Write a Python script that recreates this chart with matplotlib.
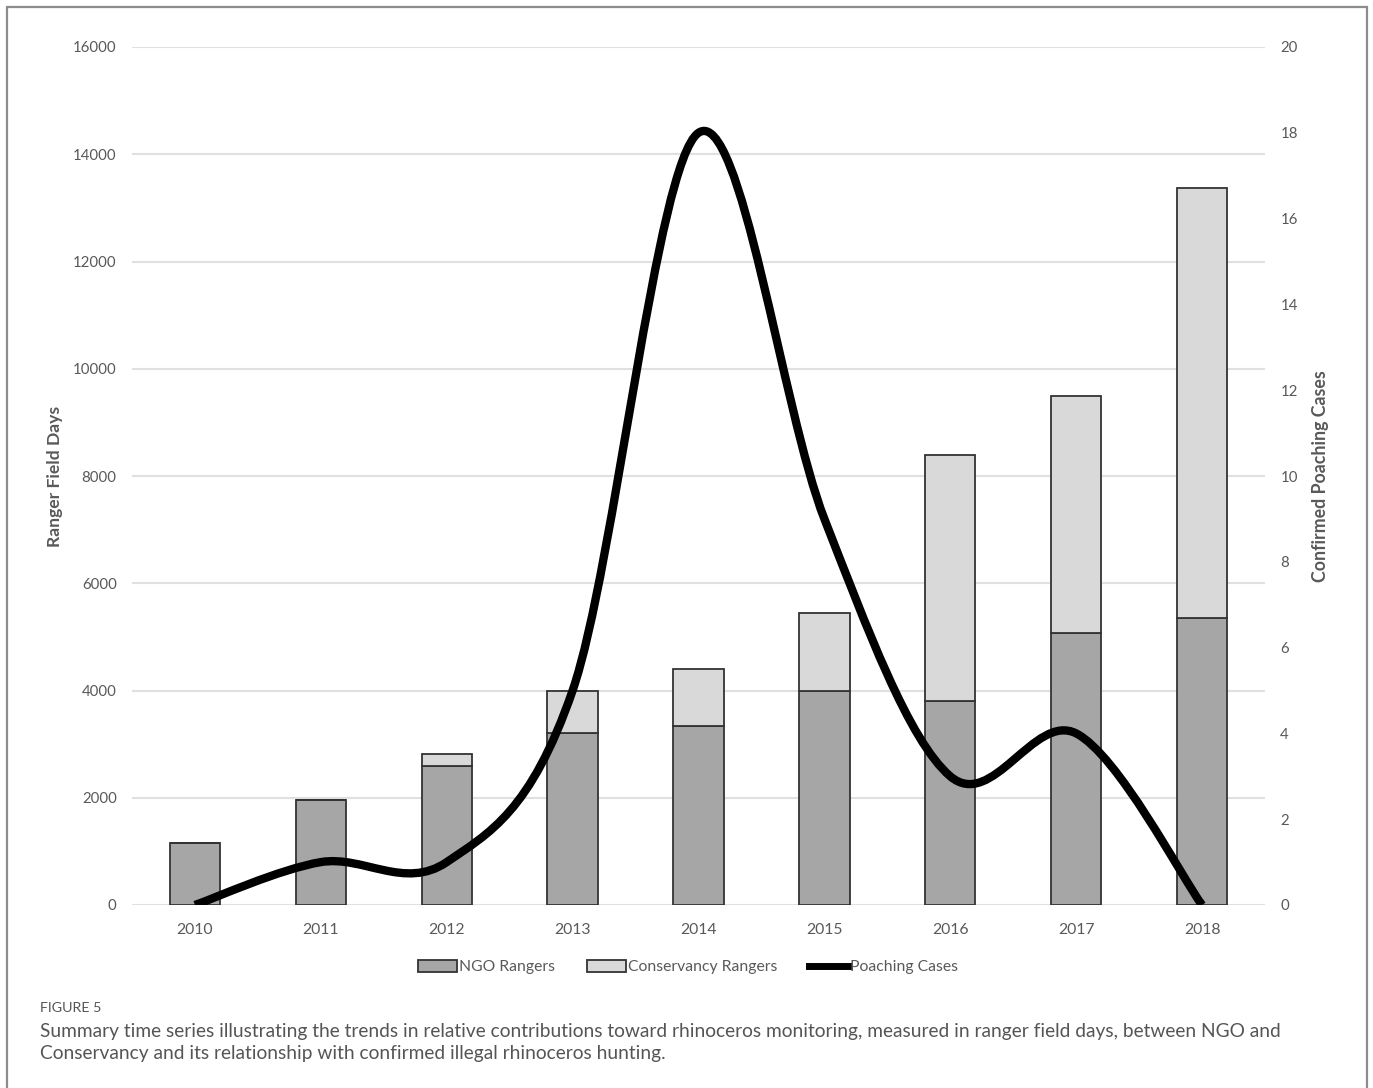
import matplotlib
matplotlib.use('Agg')
import matplotlib.pyplot as plt
from matplotlib.path import Path
from matplotlib.patches import PathPatch, Patch, Rectangle
from matplotlib.lines import Line2D
import numpy as np

years = ['2010', '2011', '2012', '2013', '2014', '2015', '2016', '2017', '2018']
ngo_rangers = [1150, 1960, 2600, 3200, 3340, 4000, 3800, 5070, 5350]
conservancy_rangers = [0, 0, 220, 800, 1060, 1450, 4590, 4420, 8020]
poaching_cases = [0, 1, 1, 5, 18, 9, 3, 4, 0]

W, H = 1373, 1088
plt.rcParams['font.family'] = ['Lato', 'DejaVu Sans']
fig = plt.figure(figsize=(W / 100, H / 100), dpi=100)

# outer frame
fig.patches.append(Rectangle((7 / W, -0.01), 1360 / W, 1.01 - 7 / H, transform=fig.transFigure,
                             fill=False, edgecolor='#8c8c8c', lw=1.6))

ax = fig.add_axes([132 / W, 183 / H, 1133 / W, 858 / H])
x = np.arange(len(years))
tc = '#595959'
ax.bar(x, ngo_rangers, width=0.4, color='#a6a6a6', edgecolor='#333333', lw=1.3, zorder=2)
ax.bar(x, conservancy_rangers, width=0.4, bottom=ngo_rangers, color='#d9d9d9',
       edgecolor='#333333', lw=1.3, zorder=2)
ax.set_xlim(-0.5, len(years) - 0.5)
ax.set_ylim(0, 16000)
ax.set_yticks(range(0, 16001, 2000))
ax.set_xticks(x)
ax.set_xticklabels(years)
ax.grid(axis='y', color='#e0e0e0', lw=1.5, zorder=0)
ax.set_axisbelow(True)
for s in ax.spines.values():
    s.set_visible(False)
ax.tick_params(length=0, colors=tc, labelsize=10.8)
ax.tick_params(axis='y', pad=11)
ax.tick_params(axis='x', labelsize=11.3, pad=13)
ax.set_ylabel('Ranger Field Days', fontsize=12.6, fontweight='bold', color=tc, labelpad=7)

ax2 = ax.twinx()
ax2.set_ylim(0, 20)
ax2.set_yticks(range(0, 21, 2))
for s in ax2.spines.values():
    s.set_visible(False)
ax2.tick_params(length=0, colors=tc, labelsize=10.8, pad=11)
ax2.set_ylabel('Confirmed Poaching Cases', fontsize=12.8, fontweight='bold', color=tc, labelpad=10)

# smoothed line (Catmull-Rom as cubic Bezier segments, like a spreadsheet's smoothed line)
px = list(x.astype(float))
py = list(map(float, poaching_cases))
verts = [(px[0], py[0])]
codes = [Path.MOVETO]
n = len(px)
for i in range(n - 1):
    p0 = (px[max(i - 1, 0)], py[max(i - 1, 0)])
    p1 = (px[i], py[i])
    p2 = (px[i + 1], py[i + 1])
    p3 = (px[min(i + 2, n - 1)], py[min(i + 2, n - 1)])
    c1 = (p1[0] + (p2[0] - p0[0]) / 6, p1[1] + (p2[1] - p0[1]) / 6)
    c2 = (p2[0] - (p3[0] - p1[0]) / 6, p2[1] - (p3[1] - p1[1]) / 6)
    verts += [c1, c2, p2]
    codes += [Path.CURVE4] * 3
ax2.add_patch(PathPatch(Path(verts, codes), fill=False, edgecolor='black', lw=6,
                        capstyle='butt', zorder=3))

handles = [Patch(facecolor='#a6a6a6', edgecolor='#333333', lw=1.3),
           Patch(facecolor='#d9d9d9', edgecolor='#333333', lw=1.3),
           Line2D([], [], color='black', lw=5)]
leg = fig.legend(handles, ['NGO Rangers', 'Conservancy Rangers', 'Poaching Cases'],
                 loc='center', bbox_to_anchor=(688 / W, 1 - 967 / H), ncol=3, frameon=False,
                 fontsize=11.3, handlelength=2.5, handleheight=0.8, handletextpad=0.15,
                 columnspacing=2.0)
for t in leg.get_texts():
    t.set_color(tc)

fig.text(40 / W, 1 - 1008 / H, 'FIGURE 5', fontsize=10.3, color='#555555', va='center')
fig.text(40 / W, 1 - 1031 / H,
         'Summary time series illustrating the trends in relative contributions toward rhinoceros '
         'monitoring, measured in ranger field days, between NGO and',
         fontsize=13.8, color='#555555', va='center')
fig.text(40 / W, 1 - 1054 / H,
         'Conservancy and its relationship with confirmed illegal rhinoceros hunting.',
         fontsize=13.8, color='#555555', va='center')

plt.savefig('out.png', dpi=100)
